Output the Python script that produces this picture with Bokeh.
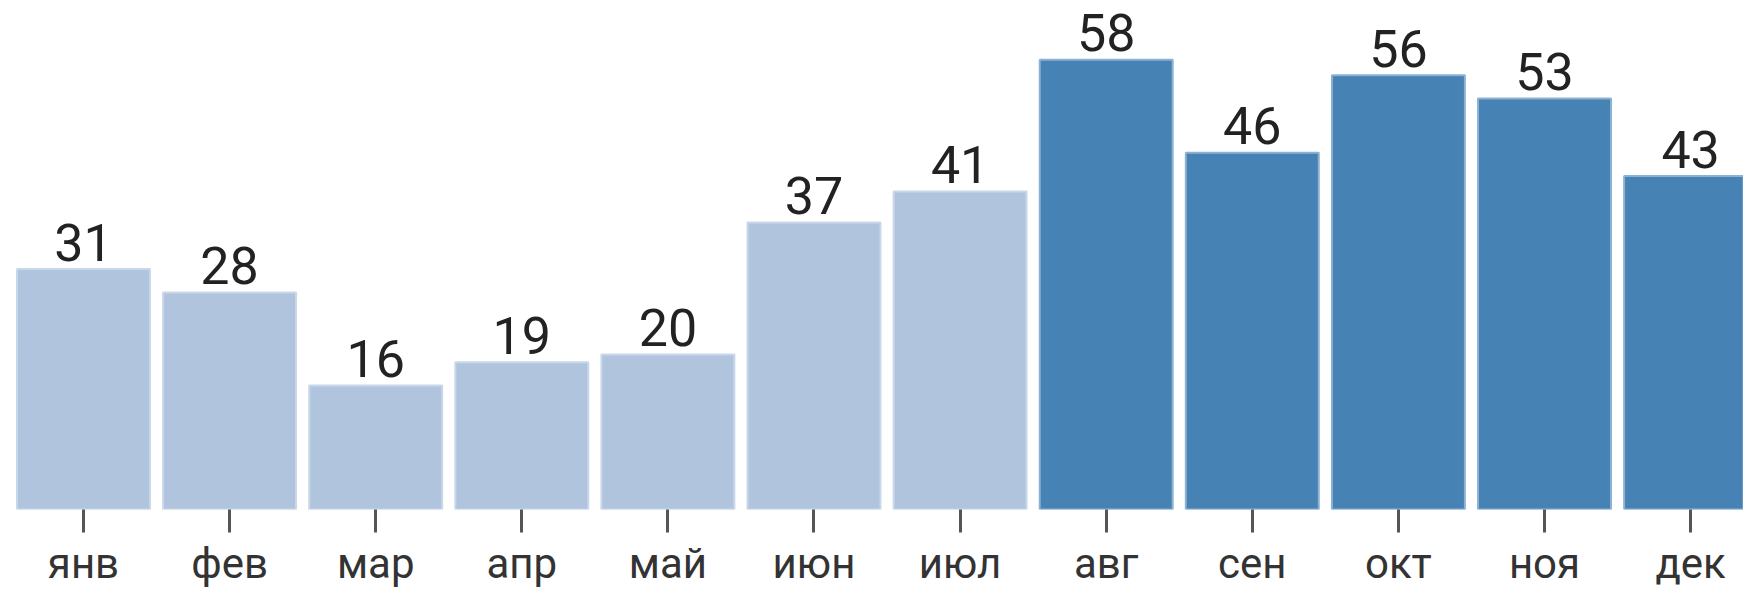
from bokeh.plotting import figure
from bokeh.models import ColumnDataSource, Range1d, FixedTicker
from bokeh.core.properties import value
from bokeh.embed import file_html
from bokeh.resources import INLINE

months = ["янв", "фев", "мар", "апр", "май", "июн", "июл", "авг", "сен", "окт", "ноя", "дек"]
values = [31, 28, 16, 19, 20, 37, 41, 58, 46, 56, 53, 43]
season = ["low", "low", "low", "low", "low", "low", "low", "high", "high", "high", "high", "high"]

fill_map = {"low": "#B0C4DE", "high": "#4682B4"}
line_map = {"low": "#C9D7EA", "high": "#8DB1D3"}

src = ColumnDataSource(dict(
    x=list(range(len(months))),
    v=values,
    label=[str(v) for v in values],
    fill=[fill_map[s] for s in season],
    line=[line_map[s] for s in season],
))

FONT = "Roboto"

p = figure(width=1743, height=590, output_backend="svg", toolbar_location=None,
           x_range=Range1d(-0.568, 11.362), y_range=Range1d(0, 65.64),
           min_border_left=0, min_border_right=0, min_border_top=0, min_border_bottom=78)

p.vbar(x="x", top="v", bottom=0, width=0.91, source=src,
       fill_color="fill", line_color="line", line_width=2)

p.text(x="x", y="v", text="label", source=src,
       text_align="center", text_baseline="alphabetic", y_offset=-27,
       text_font=value(FONT), text_font_size="52px", text_color="#222222")

p.yaxis.visible = False
p.xgrid.visible = False
p.ygrid.visible = False
p.outline_line_color = None

ax = p.xaxis[0]
ax.ticker = FixedTicker(ticks=list(range(len(months))))
ax.major_label_overrides = {i: m for i, m in enumerate(months)}
ax.axis_line_color = None
ax.major_tick_line_color = "#555555"
ax.major_tick_line_width = 3
ax.major_tick_out = 23
ax.major_tick_in = 0
ax.minor_tick_line_color = None
ax.major_label_standoff = 6
ax.major_label_text_font = FONT
ax.major_label_text_font_size = "42px"
ax.major_label_text_color = "#333333"

open("out.html", "w").write(file_html(p, INLINE))
